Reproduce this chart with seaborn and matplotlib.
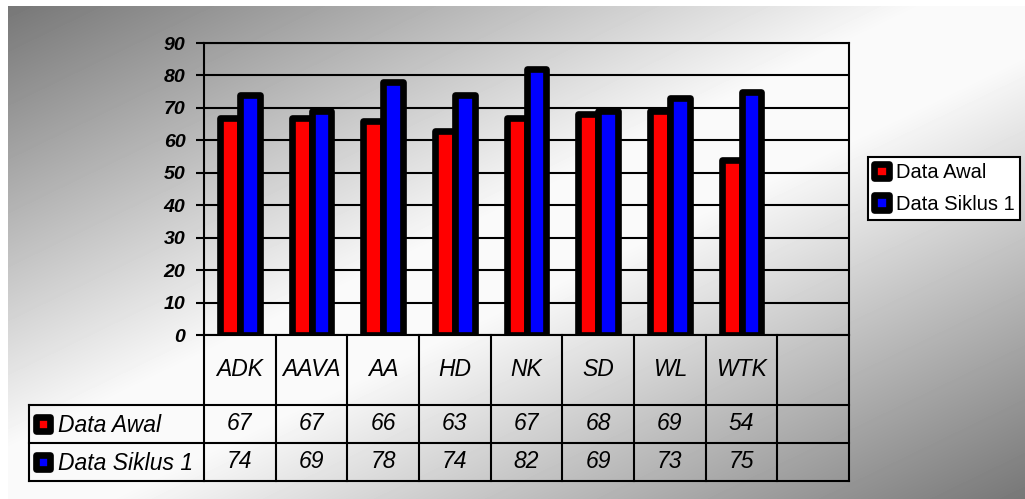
import numpy as np
import pandas as pd
import matplotlib
matplotlib.use("Agg")
import matplotlib.pyplot as plt
import seaborn as sns
from matplotlib.patches import Rectangle

# ---- data ----
categories = ["ADK", "AAVA", "AA", "HD", "NK", "SD", "WL", "WTK"]
data_awal = [67, 67, 66, 63, 67, 68, 69, 54]
data_siklus1 = [74, 69, 78, 74, 82, 69, 73, 75]
series_names = ["Data Awal", "Data Siklus 1"]
series_colors = ["#ff0000", "#0000ff"]
y_ticks = [0, 10, 20, 30, 40, 50, 60, 70, 80, 90]
n_slots = 9  # category columns in the plot and data table (last one empty)

plt.rcParams["font.family"] = ["Liberation Sans", "DejaVu Sans"]

df = pd.DataFrame({
    "Kategori": categories * 2,
    "Nilai": data_awal + data_siklus1,
    "Seri": [series_names[0]] * len(categories) + [series_names[1]] * len(categories),
})

W, H = 1025, 499
fig = plt.figure(figsize=(W / 100, H / 100), dpi=100, facecolor="white")

# ---- diagonal grey gradient background ----
bg = fig.add_axes([8 / W, 0, (W - 8) / W, (H - 6) / H], zorder=-10)
gx = np.linspace(0, 1, W - 8)
gy = np.linspace(0, 1, H - 6)
t = gx[None, :] + gy[:, None]
s = 1 - np.abs(1 - t)
shade = (119 + 131 * np.clip(s / 0.9, 0, 1)) / 255
bg.imshow(shade, cmap="gray", vmin=0, vmax=1, aspect="auto",
          extent=[0, 1, 0, 1], origin="upper", interpolation="bilinear")
bg.set_axis_off()

# ---- bar chart ----
ax = fig.add_axes([204 / W, 1 - 335 / H, 645 / W, 292 / H])
ax.set_facecolor("none")
sns.barplot(data=df, x="Kategori", y="Nilai", hue="Seri", order=categories,
            hue_order=series_names, palette=series_colors, saturation=1,
            width=0.558, gap=0, edgecolor="black", linewidth=4.8,
            errorbar=None, ax=ax)
for p in ax.patches:
    p.set_joinstyle("round")

old_leg = ax.get_legend()
handles = list(old_leg.legend_handles)
labels = [tx.get_text() for tx in old_leg.get_texts()]
old_leg.remove()

ax.set_xlim(-0.5, n_slots - 0.5)
ax.set_ylim(0, 90)
ax.set_yticks(y_ticks)
ax.set_yticklabels([str(v) for v in y_ticks], fontsize=14,
                   fontweight="bold", fontstyle="italic")
ax.set_xlabel("")
ax.set_ylabel("")
ax.tick_params(axis="x", bottom=False, labelbottom=False)
ax.tick_params(axis="y", direction="out", length=5.8, width=1.5,
               color="black", pad=7.5, labelcolor="black")
ax.set_axisbelow(True)
ax.yaxis.grid(True, color="black", linewidth=1.5)
for sp in ax.spines.values():
    sp.set_visible(True)
    sp.set_color("black")
    sp.set_linewidth(1.5)

# ---- data table underneath ----
header_left = -0.5 - (204 - 29) / (645 / n_slots)
tab = fig.add_axes([29 / W, 1 - 481 / H, (849 - 29) / W, (481 - 335) / H])
tab.set_facecolor("none")
tab.set_xlim(header_left, n_slots - 0.5)
tab.set_ylim(146, 0)
tab.set_axis_off()

row_edges = [0, 70, 108, 146]
lw_tab = 1.5
for k in range(n_slots + 1):
    tab.plot([k - 0.5, k - 0.5], [0, 146], color="black", lw=lw_tab,
             clip_on=False, solid_capstyle="projecting")
tab.plot([header_left, header_left], [70, 146], color="black", lw=lw_tab,
         clip_on=False, solid_capstyle="projecting")
for yv in row_edges[1:]:
    tab.plot([header_left, n_slots - 0.5], [yv, yv], color="black", lw=lw_tab,
             clip_on=False, solid_capstyle="projecting")

txt_kw = dict(fontsize=16.5, fontstyle="italic", ha="center", va="center",
              color="black")
for i, cat in enumerate(categories):
    tab.text(i, 35, cat, **txt_kw)
for r, vals in enumerate([data_awal, data_siklus1]):
    yc = (row_edges[r + 1] + row_edges[r + 2]) / 2
    for i, v in enumerate(vals):
        tab.text(i, yc, str(v), **txt_kw)

# row headers with series keys (pixel-based overlay)
ov = fig.add_axes([0, 0, 1, 1], zorder=5)
ov.set_xlim(0, W)
ov.set_ylim(H, 0)
ov.set_axis_off()
ov.patch.set_alpha(0)
for r, (name, col) in enumerate(zip(series_names, series_colors)):
    yc = 335 + (row_edges[r + 1] + row_edges[r + 2]) / 2
    ov.add_patch(Rectangle((36, yc - 7), 14, 14, facecolor=col,
                           edgecolor="black", linewidth=4.8,
                           joinstyle="round"))
    ov.text(58, yc + 1, name, fontsize=16.5, fontstyle="italic",
            ha="left", va="center", color="black")

# ---- legend ----
leg = fig.legend(handles, labels, loc="upper left",
                 bbox_to_anchor=(868 / W, 1 - 157 / H), fontsize=14.5,
                 frameon=True, fancybox=False, framealpha=1,
                 edgecolor="black", facecolor="white", borderpad=0.3,
                 handlelength=0.72, handleheight=0.72, handletextpad=0.35,
                 labelspacing=0.62, borderaxespad=0)
leg.get_frame().set_linewidth(1.5)
for p in leg.get_patches():
    p.set_joinstyle("round")
    p.set_linewidth(4.8)
    p.set_edgecolor("black")

fig.savefig("out.png", dpi=100, facecolor="white")
